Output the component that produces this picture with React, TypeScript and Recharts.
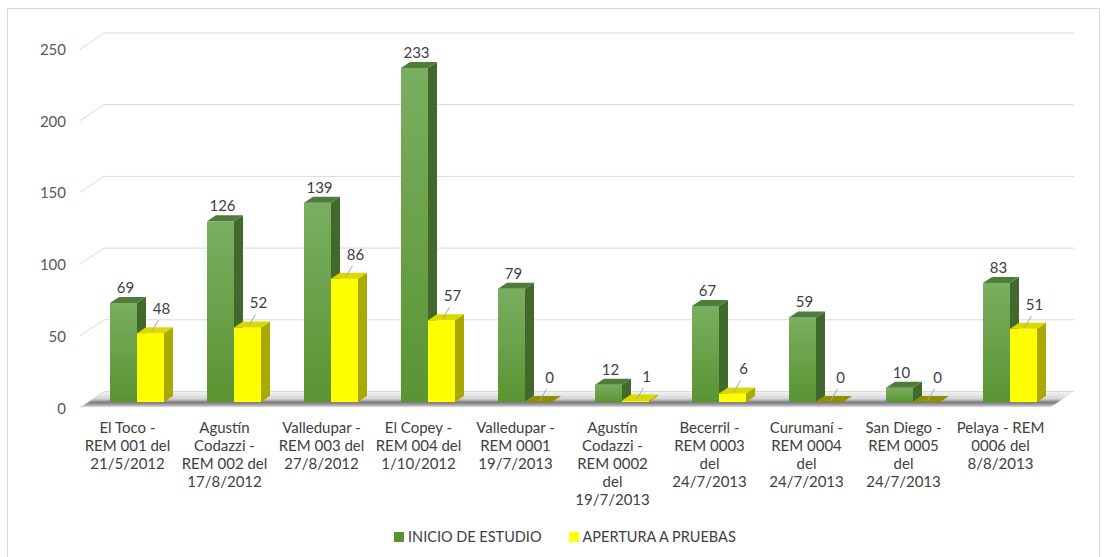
import React from 'react';
import {
  Bar,
  BarChart,
  CartesianGrid,
  LabelList,
  Legend,
  XAxis,
  YAxis,
} from 'recharts';

const categories = [
  'El Toco -\nREM 001 del\n21/5/2012',
  'Agustín\nCodazzi -\nREM 002 del\n17/8/2012',
  'Valledupar -\nREM 003 del\n27/8/2012',
  'El Copey -\nREM 004 del\n1/10/2012',
  'Valledupar -\nREM 0001\n19/7/2013',
  'Agustín\nCodazzi -\nREM 0002\ndel\n19/7/2013',
  'Becerril -\nREM 0003\ndel\n24/7/2013',
  'Curumaní -\nREM 0004\ndel\n24/7/2013',
  'San Diego -\nREM 0005\ndel\n24/7/2013',
  'Pelaya - REM\n0006 del\n8/8/2013',
];
const inicioEstudio = [69, 126, 139, 233, 79, 12, 67, 59, 10, 83];
const aperturaPruebas = [48, 52, 86, 57, 0, 1, 6, 0, 0, 51];
const yTicks = [0, 50, 100, 150, 200, 250];
const seriesNames = ['INICIO DE ESTUDIO', 'APERTURA A PRUEBAS'];

const data = categories.map((name, i) => ({
  name,
  inicio: inicioEstudio[i],
  apertura: aperturaPruebas[i],
}));

const W = 1107;
const H = 557;
const MARGIN_TOP = 43.5;
const X_AXIS_H = 110;
const MARGIN_BOTTOM = 45;
const PLOT_BOTTOM = H - MARGIN_BOTTOM - X_AXIS_H;
const FONT = 'Lato, "Open Sans", sans-serif';

// depth of a bar, and offsets of the back wall / front edge from the bar plane
const DX = 9;
const DY = 6;
const BACK = { dx: 16, dy: -10.5 };
const FRONT = { dx: -8, dy: 5.5 };

const COLORS = {
  green: { top: '#4f7d39', side: '#42692d', light: '#7aae60', dark: '#5a9432', flat: '#4f7d39' },
  yellow: { top: '#d9d900', side: '#a9a900', light: '#ffff00', dark: '#ffff00', flat: '#8f8f00' },
};

function GridLine(props: any) {
  const { x1, x2, y1, index } = props;
  if (y1 > PLOT_BOTTOM - 1) {
    const fx1 = x1 + FRONT.dx;
    const fx2 = x2 + FRONT.dx;
    const fy = y1 + FRONT.dy;
    const bx1 = x1 + BACK.dx;
    const bx2 = x2 + BACK.dx;
    const by = y1 + BACK.dy;
    return (
      <g key={`floor-${index}`}>
        <defs>
          <linearGradient id="floorGrad" x1="0" y1="0" x2="0" y2="1">
            <stop offset="0%" stopColor="#f4f4f4" />
            <stop offset="45%" stopColor="#d6d6d6" />
            <stop offset="68%" stopColor="#7c7c7c" />
            <stop offset="85%" stopColor="#a8a8a8" />
            <stop offset="100%" stopColor="#f2f2f2" />
          </linearGradient>
        </defs>
        <polygon
          points={`${fx1},${fy} ${fx2},${fy} ${bx2},${by} ${bx1},${by}`}
          fill="url(#floorGrad)"
        />
        <line x1={bx1} y1={by} x2={bx2} y2={by} stroke="#d9d9d9" strokeWidth={1} />
        <line x1={fx1} y1={fy} x2={bx1} y2={by} stroke="#d9d9d9" strokeWidth={1} />
      </g>
    );
  }
  return (
    <g key={`grid-${index}`}>
      <line
        x1={x1 + FRONT.dx}
        y1={y1 + FRONT.dy}
        x2={x1 + BACK.dx}
        y2={y1 + BACK.dy}
        stroke="#d9d9d9"
        strokeWidth={1}
      />
      <line
        x1={x1 + BACK.dx}
        y1={y1 + BACK.dy}
        x2={x2 + BACK.dx}
        y2={y1 + BACK.dy}
        stroke="#d9d9d9"
        strokeWidth={1}
      />
    </g>
  );
}

function Box3D(props: any) {
  const { x, y, width: w, height: h, tone, index } = props;
  const c = COLORS[tone as 'green' | 'yellow'];
  const gid = `grad-${tone}-${index}`;
  if (h < 1) {
    return (
      <polygon
        points={`${x},${y + h} ${x + w},${y + h} ${x + w + DX},${y + h - DY} ${x + DX},${y + h - DY}`}
        fill={c.flat}
      />
    );
  }
  return (
    <g>
      <defs>
        <linearGradient id={gid} x1="0" y1="0" x2="0" y2="1">
          <stop offset="0%" stopColor={c.light} />
          <stop offset="100%" stopColor={c.dark} />
        </linearGradient>
      </defs>
      <rect x={x} y={y} width={w} height={h} fill={`url(#${gid})`} />
      <polygon
        points={`${x + w},${y} ${x + w + DX},${y - DY} ${x + w + DX},${y + h - DY} ${x + w},${y + h}`}
        fill={c.side}
      />
      <polygon
        points={`${x},${y} ${x + DX},${y - DY} ${x + w + DX},${y - DY} ${x + w},${y}`}
        fill={c.top}
      />
    </g>
  );
}

function GreenLabel(props: any) {
  const { x, y, width, value } = props;
  return (
    <text
      x={x + width / 2 + 2}
      y={y - 16}
      textAnchor="middle"
      dominantBaseline="central"
      fontFamily={FONT}
      fontSize={15}
      fill="#404040"
    >
      {value}
    </text>
  );
}

function YellowLabel(props: any) {
  const { x, y, width, value } = props;
  const cx = x + width / 2;
  return (
    <g>
      <line x1={cx + 1} y1={y - 1} x2={cx + 8} y2={y - 13} stroke="#a6a6a6" strokeWidth={1} />
      <text
        x={cx + 11}
        y={y - 25}
        textAnchor="middle"
        dominantBaseline="central"
        fontFamily={FONT}
        fontSize={15}
        fill="#404040"
      >
        {value}
      </text>
    </g>
  );
}

function CategoryTick(props: any) {
  const { x, payload } = props;
  const lines = String(payload.value).split('\n');
  return (
    <text
      textAnchor="middle"
      fontFamily={FONT}
      fontSize={15}
      fill="#404040"
      dominantBaseline="central"
    >
      {lines.map((ln, i) => (
        <tspan key={i} x={x - 9} y={PLOT_BOTTOM + 25 + i * 18}>
          {ln}
        </tspan>
      ))}
    </text>
  );
}

function ValueTick(props: any) {
  const { y, payload } = props;
  return (
    <text
      x={66}
      y={y + FRONT.dy}
      textAnchor="end"
      dominantBaseline="central"
      fontFamily={FONT}
      fontSize={15}
      fill="#595959"
    >
      {payload.value}
    </text>
  );
}

function LegendContent() {
  const swatches = [COLORS.green.dark, '#ffff00'];
  return (
    <div style={{ display: 'flex', alignItems: 'center', fontFamily: FONT, fontSize: 14.5, color: '#404040' }}>
      {seriesNames.map((n, i) => (
        <div key={n} style={{ display: 'flex', alignItems: 'center', marginRight: 27 }}>
          <span style={{ width: 10, height: 10, background: swatches[i], marginRight: 4, display: 'inline-block' }} />
          <span>{n}</span>
        </div>
      ))}
    </div>
  );
}

export default function App() {
  return (
    <div style={{ position: 'absolute', left: 0, top: 0, width: W, height: H, background: '#fff' }}>
      <div
        style={{
          position: 'absolute',
          left: 7,
          top: 8,
          width: 1091,
          height: 560,
          border: '1px solid #d9d9d9',
        }}
      />
      <div style={{ position: 'absolute', left: 0, top: 0 }}>
        <BarChart
          width={W}
          height={H}
          data={data}
          barSize={27}
          barGap={0}
          margin={{ top: MARGIN_TOP, right: 49, left: 0, bottom: MARGIN_BOTTOM }}
        >
          <CartesianGrid vertical={false} horizontal={(p: any) => <GridLine {...p} />} />
          <XAxis
            dataKey="name"
            axisLine={false}
            tickLine={false}
            interval={0}
            height={X_AXIS_H}
            tick={<CategoryTick />}
          />
          <YAxis
            domain={[0, 250]}
            ticks={yTicks}
            axisLine={false}
            tickLine={false}
            width={88}
            tick={<ValueTick />}
          />
          <Legend
            layout="horizontal"
            verticalAlign="middle"
            align="center"
            content={<LegendContent />}
            wrapperStyle={{ position: 'absolute', left: 394, top: 528, width: 420, height: 20 }}
          />
          <Bar
            dataKey="inicio"
            name={seriesNames[0]}
            fill="#5a9432"
            isAnimationActive={false}
            shape={(p: any) => <Box3D {...p} tone="green" />}
          >
            <LabelList dataKey="inicio" content={<GreenLabel />} />
          </Bar>
          <Bar
            dataKey="apertura"
            name={seriesNames[1]}
            fill="#ffff00"
            isAnimationActive={false}
            shape={(p: any) => <Box3D {...p} tone="yellow" />}
          >
            <LabelList dataKey="apertura" content={<YellowLabel />} />
          </Bar>
        </BarChart>
      </div>
    </div>
  );
}
